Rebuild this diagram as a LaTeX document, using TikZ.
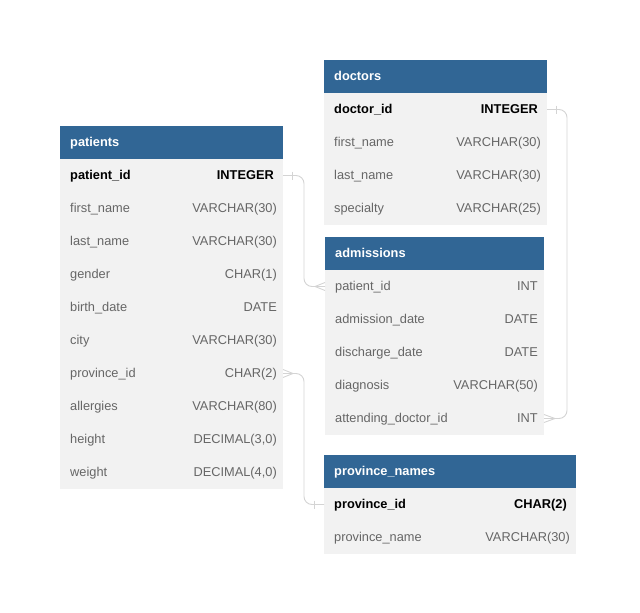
\documentclass[tikz,border=0pt]{standalone}
\usepackage{fontspec}
\setmainfont{Liberation Sans}
\usepackage{tikz}
\usetikzlibrary{positioning,calc}
\definecolor{hdrblue}{RGB}{49,102,149}
\definecolor{rowgray}{RGB}{242,242,242}
\definecolor{fieldgray}{RGB}{102,102,102}
\definecolor{relgray}{RGB}{212,212,212}
\newcommand{\erdsize}{\fontsize{12.8}{15}\selectfont}
\tikzstyle{tblhead} = [rectangle, fill=hdrblue, minimum height=33pt, inner sep=0pt, outer sep=0pt, anchor=north west]
\tikzstyle{tblrow}  = [rectangle, fill=rowgray, minimum height=33pt, inner sep=0pt, outer sep=0pt]
\tikzstyle{tname}   = [anchor=west, xshift=10pt, inner sep=0pt, text height=10pt, text depth=3pt, text=white, font=\erdsize\bfseries]
\tikzstyle{fname}   = [anchor=west, xshift=10pt, inner sep=0pt, text height=10pt, text depth=3pt, text=fieldgray]
\tikzstyle{fkey}    = [anchor=west, xshift=10pt, inner sep=0pt, text height=10pt, text depth=3pt, font=\erdsize\bfseries]
\tikzstyle{ftype}   = [anchor=east, xshift=-6pt, inner sep=0pt, text height=10pt, text depth=3pt, text=fieldgray]
\tikzstyle{ktype}   = [anchor=east, xshift=-9pt, inner sep=0pt, text height=10pt, text depth=3pt, font=\erdsize\bfseries]
\tikzstyle{rel}     = [draw=relgray, line width=0.9pt, rounded corners=8pt]
\tikzstyle{onebar}  = [draw=relgray, line width=0.9pt]
\tikzstyle{crow}    = [draw=relgray, line width=0.9pt]

\begin{document}
\begin{tikzpicture}[x=1pt, y=-1pt, font=\erdsize]
    \useasboundingbox (0,0) rectangle (640,613);

    % patients
    \node[tblhead, minimum width=223pt, label={[tname]west:patients}] (patients) at (60,126) {};
    \node[tblrow, minimum width=223pt, below=0pt of patients, label={[fkey]west:patient\_id},  label={[ktype]east:INTEGER}]      (pat1)  {};
    \node[tblrow, minimum width=223pt, below=0pt of pat1, label={[fname]west:first\_name},     label={[ftype]east:VARCHAR(30)}]  (pat2)  {};
    \node[tblrow, minimum width=223pt, below=0pt of pat2, label={[fname]west:last\_name},      label={[ftype]east:VARCHAR(30)}]  (pat3)  {};
    \node[tblrow, minimum width=223pt, below=0pt of pat3, label={[fname]west:gender},          label={[ftype]east:CHAR(1)}]      (pat4)  {};
    \node[tblrow, minimum width=223pt, below=0pt of pat4, label={[fname]west:birth\_date},     label={[ftype]east:DATE}]         (pat5)  {};
    \node[tblrow, minimum width=223pt, below=0pt of pat5, label={[fname]west:city},            label={[ftype]east:VARCHAR(30)}]  (pat6)  {};
    \node[tblrow, minimum width=223pt, below=0pt of pat6, label={[fname]west:province\_id},    label={[ftype]east:CHAR(2)}]      (pat7)  {};
    \node[tblrow, minimum width=223pt, below=0pt of pat7, label={[fname]west:allergies},       label={[ftype]east:VARCHAR(80)}]  (pat8)  {};
    \node[tblrow, minimum width=223pt, below=0pt of pat8, label={[fname]west:height},          label={[ftype]east:DECIMAL(3,0)}] (pat9)  {};
    \node[tblrow, minimum width=223pt, below=0pt of pat9, label={[fname]west:weight},          label={[ftype]east:DECIMAL(4,0)}] (pat10) {};

    % doctors
    \node[tblhead, minimum width=223pt, label={[tname]west:doctors}] (doctors) at (324,60) {};
    \node[tblrow, minimum width=223pt, below=0pt of doctors, label={[fkey]west:doctor\_id},   label={[ktype]east:INTEGER}]     (doc1) {};
    \node[tblrow, minimum width=223pt, below=0pt of doc1, label={[fname]west:first\_name},    label={[ftype]east:VARCHAR(30)}] (doc2) {};
    \node[tblrow, minimum width=223pt, below=0pt of doc2, label={[fname]west:last\_name},     label={[ftype]east:VARCHAR(30)}] (doc3) {};
    \node[tblrow, minimum width=223pt, below=0pt of doc3, label={[fname]west:specialty},      label={[ftype]east:VARCHAR(25)}] (doc4) {};

    % admissions
    \node[tblhead, minimum width=219pt, label={[tname]west:admissions}] (admissions) at (325,237) {};
    \node[tblrow, minimum width=219pt, below=0pt of admissions, label={[fname]west:patient\_id}, label={[ftype]east:INT}]         (adm1) {};
    \node[tblrow, minimum width=219pt, below=0pt of adm1, label={[fname]west:admission\_date},   label={[ftype]east:DATE}]        (adm2) {};
    \node[tblrow, minimum width=219pt, below=0pt of adm2, label={[fname]west:discharge\_date},   label={[ftype]east:DATE}]        (adm3) {};
    \node[tblrow, minimum width=219pt, below=0pt of adm3, label={[fname]west:diagnosis},         label={[ftype]east:VARCHAR(50)}] (adm4) {};
    \node[tblrow, minimum width=219pt, below=0pt of adm4, label={[fname]west:attending\_doctor\_id}, label={[ftype]east:INT}]      (adm5) {};

    % province_names
    \node[tblhead, minimum width=252pt, label={[tname]west:province\_names}] (provinces) at (324,455) {};
    \node[tblrow, minimum width=252pt, below=0pt of provinces, label={[fkey]west:province\_id}, label={[ktype]east:CHAR(2)}]     (prov1) {};
    \node[tblrow, minimum width=252pt, below=0pt of prov1, label={[fname]west:province\_name},  label={[ftype]east:VARCHAR(30)}] (prov2) {};

    % relations
    \draw[rel] (pat1.east) --++(21,0) |- (adm1.west);
    \draw[onebar] ($(pat1.east)+(9,-4)$) --++(0,8);
    \draw[crow] ($(adm1.west)+(0,-4)$) -- ($(adm1.west)+(-10,0)$) -- ($(adm1.west)+(0,4)$);

    \draw[rel] (doc1.east) --++(20,0) |- (adm5.east);
    \draw[onebar] ($(doc1.east)+(9,-4)$) --++(0,8);
    \draw[crow] ($(adm5.east)+(0,-4)$) -- ($(adm5.east)+(11,0)$) -- ($(adm5.east)+(0,4)$);

    \draw[rel] (pat7.east) --++(21,0) |- (prov1.west);
    \draw[crow] ($(pat7.east)+(0,-4)$) -- ($(pat7.east)+(10,0)$) -- ($(pat7.east)+(0,4)$);
    \draw[onebar] ($(prov1.west)+(-10,-4)$) --++(0,8);

\end{tikzpicture}
\end{document}
